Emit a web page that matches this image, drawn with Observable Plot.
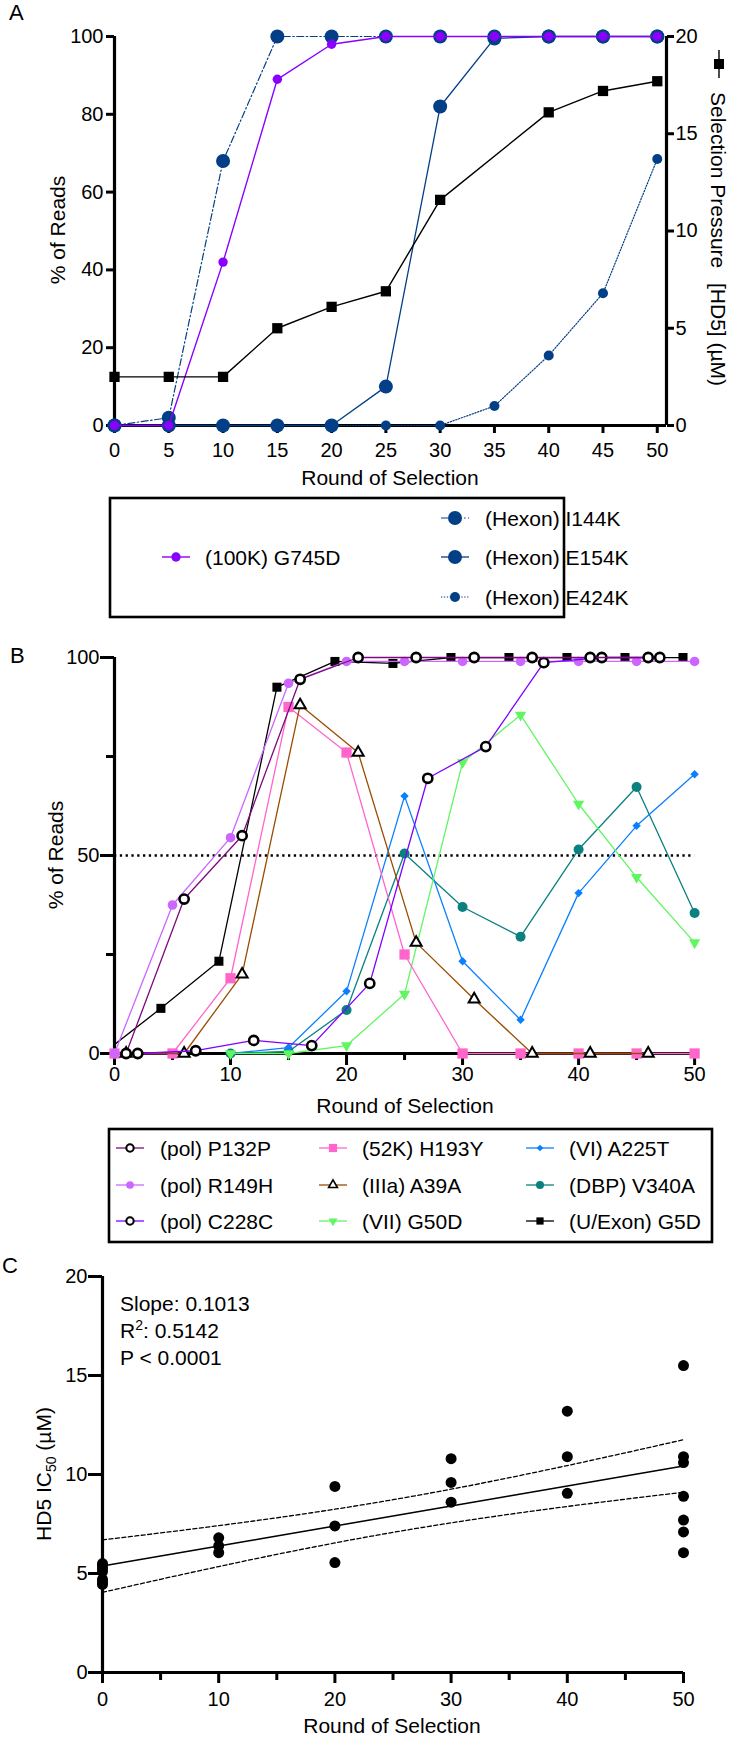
<!DOCTYPE html>
<html><head><meta charset="utf-8">
<script src="https://cdn.jsdelivr.net/npm/d3@7"></script>
<script src="https://cdn.jsdelivr.net/npm/@observablehq/plot@0.6"></script>
<style>
html,body{margin:0;padding:0;background:#fff;}
#root{position:relative;width:729px;height:1740px;overflow:hidden;background:#fff;}
#root svg{position:absolute;left:0;}
</style></head>
<body><div id="root"></div>
<script>
// ================= DATA =================
// Panel A
const roundsA = [0,5,10,15,20,25,30,35,40,45,50];
const g745d      = [0,0,42,89,98,100,100,100,100,100,100];
const hexonI144K = [0,2,68,100,100,100,100,100,100,100,100];
const hexonE154K = [0,0,0,0,0,10,82,99.5,100,100,100];
const hexonE424K = [0,0,0,0,0,0,0,5,18,34,68.5];
const pressureRounds = [0,5,10,15,20,25,30,40,45,50];
const pressureUM     = [2.5,2.5,2.5,5,6.1,6.9,11.6,16.1,17.2,17.7];
const ticksAx = [0,5,10,15,20,25,30,35,40,45,50];
const ticksAy = [0,20,40,60,80,100];
const ticksAright = [0,5,10,15,20];

// Panel B
const roundsB     = [0,5,10,15,20,25,30,35,40,45,50];
const roundsBLate = [10,15,20,25,30,35,40,45,50];
const polP132P  = [0,39,55,94.5,100,100,100,100,100,100,100];
const polR149H  = [0,37.5,54.5,93.5,99,99,99,99,99,99,99];
const polC228C  = [0,0.7,3.3,2,17.7,69.5,77.5,98.7,100,100,100];
const k52H193Y  = [0,0,19,87.5,76,25,0,0,0,0,0];
const iiiaA39A  = [0,0,20,88,76,28,13.7,0,0,0,0];
const viiG50D   = [0,0,2,15,73.5,85.5,63,44.5,28];
const viA225T   = [0,1.5,15.7,65,23.3,8.5,40.5,57.5,70.5];
const dbpV340A  = [0,0.5,11,50.5,37,29.5,51.5,67.3,35.5];
const uExonG5D  = [0,11.4,23.3,92.5,99,98.5,100,100,100,100,100];
const ticksBx = [0,5,10,15,20,25,30,35,40,45,50];
const ticksBy = [0,25,50,75,100];

// Panel C
const roundsC = [0,10,20,30,40,50];
const ic50Round0  = [5.5,5.4,5.25,5.1,4.7,4.55,4.45];
const ic50Round10 = [6.8,6.4,6.05];
const ic50Round20 = [9.4,7.4,5.55];
const ic50Round30 = [10.8,9.6,8.6];
const ic50Round40 = [13.2,10.9,9.05];
const ic50Round50 = [15.5,10.9,10.6,8.9,7.7,7.1,6.05];
const ticksCx = [0,5,10,15,20,25,30,35,40,45,50];
const ticksCy = [0,5,10,15,20];
const statsC = ["Slope: 0.1013", "0.5142", "P < 0.0001"];

// ================= SETUP =================
const FONT = '"Liberation Sans", Arial, Helvetica, sans-serif';
const root = document.getElementById("root");
function place(svg, top){ svg.style.position="absolute"; svg.style.top=top+"px"; svg.style.left="0px"; root.appendChild(svg); }
const tbl = (xs, ys) => xs.map((x,i)=>({round:x, value:ys[i]}));
const baseStyle = {fontFamily:FONT, fontSize:"20px", color:"black", background:"transparent", overflow:"visible"};
const triangleDown = {draw(ctx, size){ const s=Math.sqrt(size*4/Math.sqrt(3)); const h=s*Math.sqrt(3)/2; ctx.moveTo(0,2*h/3); ctx.lineTo(-s/2,-h/3); ctx.lineTo(s/2,-h/3); ctx.closePath(); }};

// ================= PANEL A =================
const HEX = "#033f86", VIOLET = "#8a00ff";
const A_XMAX = 50.85;
const pct = d3.scaleLinear().domain([0,20]).range([0,100]);
const seriesA = [
  {label:"(Hexon) E424K", data:tbl(roundsA,hexonE424K), color:HEX, r:5, dash:"1.3,1.6", width:1.2},
  {label:"(Hexon) E154K", data:tbl(roundsA,hexonE154K), color:HEX, r:7, dash:undefined, width:1.3},
  {label:"(Hexon) I144K", data:tbl(roundsA,hexonI144K), color:HEX, r:7, dash:"7,2.5,1.5,2.5", width:1.2},
  {label:"(100K) G745D", data:tbl(roundsA,g745d), color:VIOLET, r:4.7, dash:undefined, width:1.4}
];
const pressureRows = tbl(pressureRounds, pressureUM);
const plotA = Plot.plot({
  width:729, height:490, marginTop:36, marginBottom:65, marginLeft:114, marginRight:63,
  x:{domain:[0,A_XMAX]}, y:{domain:[0,100]}, style:baseStyle,
  marks:[
    Plot.axisX({ticks:ticksAx, tickSize:8, tickPadding:9, strokeWidth:3, fontSize:20, label:null}),
    Plot.axisY({ticks:ticksAy, tickSize:8, tickPadding:3, strokeWidth:3, fontSize:20, label:null}),
    Plot.axisY({anchor:"right", ticks:ticksAright.map(pct), tickFormat:d=>pct.invert(d), tickSize:7, tickPadding:2, strokeWidth:3, fontSize:20, label:null}),
    Plot.ruleX([0],{strokeWidth:3.2}), Plot.ruleX([A_XMAX],{strokeWidth:3.2}), Plot.ruleY([0],{strokeWidth:3.2}),
    ...seriesA.flatMap(s=>[
      Plot.line(s.data,{x:"round",y:"value",stroke:s.color,strokeWidth:s.width,strokeDasharray:s.dash}),
      Plot.dot(s.data,{x:"round",y:"value",r:s.r,fill:s.color})
    ]),
    Plot.line(pressureRows,{x:"round",y:d=>pct(d.value),stroke:"black",strokeWidth:1.4}),
    Plot.dot(pressureRows,{x:"round",y:d=>pct(d.value),symbol:"square",r:5.8,fill:"black"})
  ]
});
place(plotA, 0);

// ================= PANEL B =================
const B_XMAX = 50.25;
const openC = {symbol:d3.symbolCircle, fill:"white", stroke:"black", sw:2.6, r:4.6};
const seriesB = [
  {label:"(DBP) V340A", rounds:roundsBLate, values:dbpV340A, line:"#0a8080", symbol:d3.symbolCircle, fill:"#0a8080", r:5, dx:0},
  {label:"(VI) A225T", rounds:roundsBLate, values:viA225T, line:"#0a80ff", symbol:d3.symbolDiamond2, fill:"#0a80ff", r:3.8, dx:0},
  {label:"(VII) G50D", rounds:roundsBLate, values:viiG50D, line:"#62f562", symbol:triangleDown, fill:"#62f562", r:4.2, dx:0},
  {label:"(52K) H193Y", rounds:roundsB, values:k52H193Y, line:"#ff66cc", symbol:d3.symbolSquare, fill:"#ff66cc", r:5.8, dx:0},
  {label:"(IIIa) A39A", rounds:roundsB, values:iiiaA39A, line:"#9a4c00", symbol:d3.symbolTriangle, fill:"white", stroke:"black", sw:2, r:4.1, dx:1},
  {label:"(U/Exon) G5D", rounds:roundsB, values:uExonG5D, line:"black", symbol:d3.symbolSquare, fill:"black", r:5.1, dx:-1, clip:true},
  {label:"(pol) R149H", rounds:roundsB, values:polR149H, line:"#cc66ff", symbol:d3.symbolCircle, fill:"#cc66ff", r:4.8, dx:0},
  {label:"(pol) C228C", rounds:roundsB, values:polC228C, line:"#8000ff", ...openC, dx:2},
  {label:"(pol) P132P", rounds:roundsB, values:polP132P, line:"#7d0a7d", ...openC, dx:1}
];
const inB = d => d.x >= 0 && d.x <= B_XMAX;
const marksB = seriesB.flatMap(s => {
  const all = s.rounds.map((r,i)=>({x:r+s.dx, value:s.values[i]}));
  const vis = all.filter(inB);
  return [
    Plot.line(s.clip ? all : vis, {x:"x", y:"value", stroke:s.line, strokeWidth:1.3, clip:!!s.clip}),
    Plot.dot(vis, {x:"x", y:"value", symbol:s.symbol, r:s.r, fill:s.fill, stroke:s.stroke||"none", strokeWidth:s.sw||0})
  ];
});
const plotB = Plot.plot({
  width:729, height:470, marginTop:37, marginBottom:37, marginLeft:114, marginRight:32,
  x:{domain:[0,B_XMAX]}, y:{domain:[0,100]}, style:baseStyle,
  marks:[
    Plot.axisX({ticks:ticksBx.filter(t=>t%10===0), tickSize:12, tickPadding:1, strokeWidth:3, fontSize:20, label:null}),
    Plot.axisX({ticks:ticksBx.filter(t=>t%10!==0), tickSize:7, tickFormat:()=>"", strokeWidth:3, label:null}),
    Plot.axisY({ticks:ticksBy.filter(t=>t%50===0), tickSize:14, tickPadding:1, strokeWidth:3, fontSize:20, label:null}),
    Plot.axisY({ticks:ticksBy.filter(t=>t%50!==0), tickSize:8, tickFormat:()=>"", strokeWidth:3, label:null}),
    Plot.ruleX([0],{strokeWidth:3.2}), Plot.ruleY([0],{strokeWidth:3.2}),
    Plot.ruleY([50],{x1:0, x2:50, strokeWidth:2.3, strokeDasharray:"2.3,3.5"}),
    ...marksB
  ]
});
place(plotB, 620);

// ================= PANEL C =================
const ic50 = [ic50Round0, ic50Round10, ic50Round20, ic50Round30, ic50Round40, ic50Round50];
const ptsC = roundsC.flatMap((r,i)=>ic50[i].map(v=>({round:r, ic50:v})));
const n = ptsC.length, mx = d3.mean(ptsC,d=>d.round), my = d3.mean(ptsC,d=>d.ic50);
const sxx = d3.sum(ptsC,d=>(d.round-mx)**2), sxy = d3.sum(ptsC,d=>(d.round-mx)*(d.ic50-my));
const slope = sxy/sxx, icpt = my - slope*mx;
const sse = d3.sum(ptsC,d=>(d.ic50-icpt-slope*d.round)**2);
const se = Math.sqrt(sse/(n-2)), T = 2.064;
const fitC = d3.range(0, 50.001, 0.5).map(x=>{const yh=icpt+slope*x; const h=T*se*Math.sqrt(1/n+(x-mx)**2/sxx); return {round:x, fit:yh, lo:yh-h, hi:yh+h};});
const plotC = Plot.plot({
  width:729, height:500, marginTop:36, marginBottom:68, marginLeft:102, marginRight:46,
  x:{domain:[0,50]}, y:{domain:[0,20]}, style:baseStyle,
  marks:[
    Plot.axisX({ticks:ticksCx.filter(t=>t%10===0), tickSize:11, tickPadding:8, strokeWidth:3, fontSize:20, label:null}),
    Plot.axisX({ticks:ticksCx.filter(t=>t%10!==0), tickSize:8, tickFormat:()=>"", strokeWidth:3, label:null}),
    Plot.axisY({ticks:ticksCy, tickSize:14, tickPadding:1, strokeWidth:3, fontSize:20, label:null}),
    Plot.ruleX([0],{strokeWidth:3.2}), Plot.ruleY([0],{strokeWidth:3.2}),
    Plot.line(fitC,{x:"round",y:"hi",stroke:"black",strokeWidth:1.3,strokeDasharray:"4,2.5"}),
    Plot.line(fitC,{x:"round",y:"lo",stroke:"black",strokeWidth:1.3,strokeDasharray:"4,2.5"}),
    Plot.line(fitC,{x:"round",y:"fit",stroke:"black",strokeWidth:1.5}),
    Plot.dot(ptsC,{x:"round",y:"ic50",r:5.5,fill:"black"})
  ]
});
place(plotC, 1240);

// ================= OVERLAY TEXT & LEGENDS =================
const ov = d3.create("svg").attr("width",729).attr("height",1740)
  .style("font-family",FONT).style("font-size","21px").style("pointer-events","none");
const T21 = (x,y,txt,anchor="start",size=21) => ov.append("text").attr("x",x).attr("y",y).attr("text-anchor",anchor).attr("font-size",size).text(txt);
// panel letters
T21(9,20,"A","start",22); T21(10,663,"B","start",22); T21(2,1273,"C","start",22);
// axis titles
T21(390,485,"Round of Selection","middle");
T21(405,1113,"Round of Selection","middle");
T21(392,1733,"Round of Selection","middle");
ov.append("text").attr("transform","translate(65,230) rotate(-90)").attr("text-anchor","middle").text("% of Reads");
ov.append("text").attr("transform","translate(63,855) rotate(-90)").attr("text-anchor","middle").text("% of Reads");
const cl = ov.append("text").attr("transform","translate(51,1474) rotate(-90)").attr("text-anchor","middle");
cl.append("tspan").text("HD5 IC");
cl.append("tspan").attr("dy",5).attr("font-size",14).text("50");
cl.append("tspan").attr("dy",-5).text(" (\u00b5M)");
// right axis title A
ov.append("text").attr("transform","translate(711,92) rotate(90)").text("Selection Pressure");
ov.append("text").attr("transform","translate(711,283) rotate(90)").text("[HD5] (\u00b5M)");
ov.append("line").attr("x1",719).attr("x2",719).attr("y1",50).attr("y2",78).attr("stroke","black").attr("stroke-width",1.4);
ov.append("path").attr("transform","translate(719,64)").attr("d",d3.symbol(d3.symbolSquare,100)()).attr("fill","black");
// stats C
T21(120,1311,statsC[0]);
const r2 = ov.append("text").attr("x",120).attr("y",1338);
r2.append("tspan").text("R"); r2.append("tspan").attr("dy",-8).attr("font-size",14).text("2");
r2.append("tspan").attr("dy",8).text(": "+statsC[1]);
T21(120,1365,statsC[2]);

function legendItem(cx, cy, line, dash, lw, symbol, r, fill, stroke, sw, text, tx){
  ov.append("line").attr("x1",cx-14).attr("x2",cx+14).attr("y1",cy).attr("y2",cy)
    .attr("stroke",line).attr("stroke-width",lw).attr("stroke-dasharray",dash||null);
  ov.append("path").attr("transform",`translate(${cx},${cy})`).attr("d",d3.symbol(symbol,Math.PI*r*r)())
    .attr("fill",fill).attr("stroke",stroke||"none").attr("stroke-width",sw||0);
  ov.append("text").attr("x",tx).attr("y",cy+7.5).text(text);
}
// legend A
ov.append("rect").attr("x",110).attr("y",498).attr("width",454).attr("height",119).attr("fill","none").attr("stroke","black").attr("stroke-width",2.6);
const legA = {"(100K) G745D":[176,557,205], "(Hexon) I144K":[455,518,485], "(Hexon) E154K":[455,557,485], "(Hexon) E424K":[455,597,485]};
seriesA.forEach(s=>{ const [cx,cy,tx]=legA[s.label]; legendItem(cx,cy,s.color,s.dash,s.width,d3.symbolCircle,s.r,s.color,null,0,s.label,tx); });
// legend B
ov.append("rect").attr("x",109).attr("y",1129).attr("width",603).attr("height",113).attr("fill","none").attr("stroke","black").attr("stroke-width",2.6);
const legBOrder = [["(pol) P132P","(pol) R149H","(pol) C228C"],["(52K) H193Y","(IIIa) A39A","(VII) G50D"],["(VI) A225T","(DBP) V340A","(U/Exon) G5D"]];
const colSym = [130,333,540], colTxt = [160,362,569], rowY = [1148,1185,1221];
legBOrder.forEach((col,ci)=>col.forEach((lab,ri)=>{
  const s = seriesB.find(d=>d.label===lab);
  legendItem(colSym[ci], rowY[ri], s.line, null, 1.3, s.symbol, s.r*0.8, s.fill, s.stroke, s.sw?s.sw*0.8:0, lab, colTxt[ci]);
}));
const ovNode = ov.node(); ovNode.style.top="0px"; root.appendChild(ovNode);
</script>
</body></html>
